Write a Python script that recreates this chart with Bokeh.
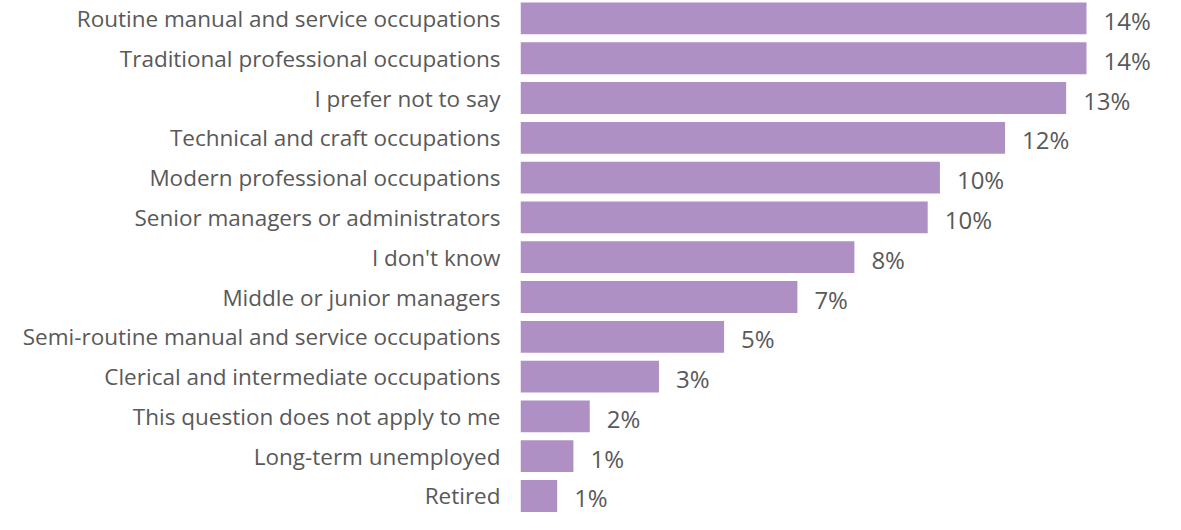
from bokeh.plotting import figure
from bokeh.models import Range1d, FixedTicker, ColumnDataSource
from bokeh.embed import file_html
from bokeh.resources import INLINE
from bokeh.core.properties import value

categories = [
    "Routine manual and service occupations",
    "Traditional professional occupations",
    "I prefer not to say",
    "Technical and craft occupations",
    "Modern professional occupations",
    "Senior managers or administrators",
    "I don't know",
    "Middle or junior managers",
    "Semi-routine manual and service occupations",
    "Clerical and intermediate occupations",
    "This question does not apply to me",
    "Long-term unemployed",
    "Retired",
]
values = [13.9, 13.9, 13.4, 11.9, 10.3, 10.0, 8.2, 6.8, 5.0, 3.4, 1.7, 1.3, 0.9]
value_labels = ["14%", "14%", "13%", "12%", "10%", "10%", "8%", "7%", "5%", "3%", "2%", "1%", "1%"]

BAR = "#ae90c5"
TXT = "#595959"
FONT = "Open Sans"

pos = list(range(len(categories)))
src = ColumnDataSource(dict(y=pos, v=values, lab=value_labels))

p = figure(width=1165, height=514, output_backend="svg", toolbar_location=None,
           x_range=Range1d(0, 15.84), y_range=Range1d(12.465, -0.45),
           min_border_left=520, min_border_right=0, min_border_top=0, min_border_bottom=0)

p.hbar(y="y", left=0, right="v", height=0.8, source=src, fill_color=BAR, line_color=None)
p.text(x="v", y="y", text="lab", source=src, x_offset=17, y_offset=2,
       text_baseline="middle", text_align="left", text_color=TXT,
       text_font=value(FONT), text_font_size="24px")

p.xaxis.visible = False
yax = p.yaxis[0]
yax.ticker = FixedTicker(ticks=pos)
yax.major_label_overrides = {i: c for i, c in zip(pos, categories)}
yax.axis_line_color = None
yax.major_tick_line_color = None
yax.minor_tick_line_color = None
yax.major_tick_out = 0
yax.major_tick_in = 0
yax.major_label_standoff = 20
yax.major_label_text_font = FONT
yax.major_label_text_font_size = "22.5px"
yax.major_label_text_color = TXT

p.xgrid.visible = False
p.ygrid.visible = False
p.outline_line_color = None
p.background_fill_color = "white"
p.border_fill_color = "white"

open("out.html", "w").write(file_html(p, INLINE))
